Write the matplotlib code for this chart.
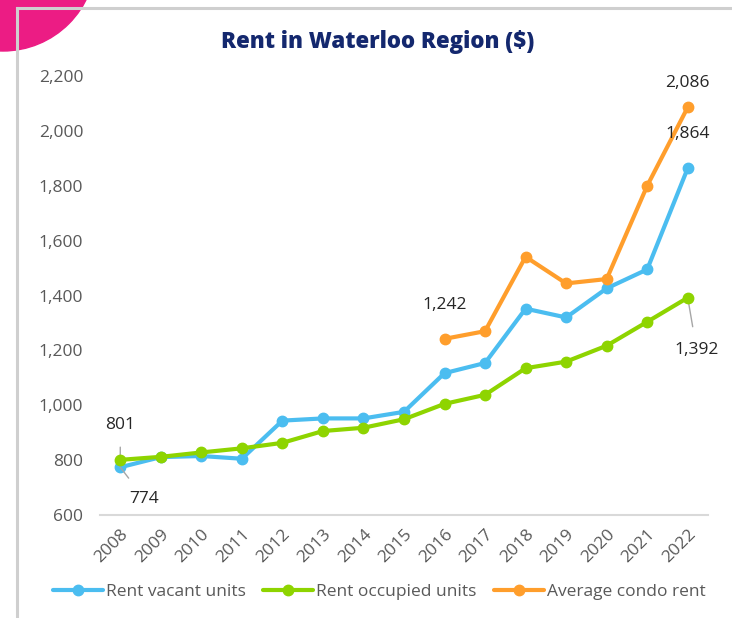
import matplotlib
matplotlib.use("Agg")
import matplotlib.pyplot as plt
from matplotlib.patches import Circle
from matplotlib.lines import Line2D

plt.rcParams['font.family'] = ['Open Sans', 'DejaVu Sans']

years = [str(y) for y in range(2008, 2023)]
vacant = [774, 811, 815, 805, 944, 952, 952, 976, 1117, 1154, 1352, 1320, 1426, 1495, 1864]
occupied = [801, 812, 828, 843, 863, 906, 918, 949, 1005, 1038, 1135, 1159, 1217, 1304, 1392]
condo_years = years[8:]
condo = [1242, 1270, 1541, 1444, 1460, 1800, 2086]

BLUE = '#4BBDF0'
GREEN = '#8ED400'
ORANGE = '#FF9E2C'
GRAY = '#595959'

W, H = 732, 618
fig = plt.figure(figsize=(W / 100, H / 100), dpi=100)

# decorative frame and pink circle
fig.add_artist(Line2D([17 / W, 17 / W], [0, 1 - 8 / H], transform=fig.transFigure, color='#cfcfcf', lw=2.2))
fig.add_artist(Line2D([17 / W, 1], [1 - 8 / H, 1 - 8 / H], transform=fig.transFigure, color='#cfcfcf', lw=2.2))
circ_ax = fig.add_axes([0, 0, 1, 1], zorder=-1)
circ_ax.set_xlim(0, W)
circ_ax.set_ylim(H, 0)
circ_ax.axis('off')
circ_ax.add_patch(Circle((3, -42), 93, color='#EC1C84', zorder=5))

ax = fig.add_axes([100 / W, 1 - 515 / H, 608 / W, (515 - 76) / H])
x = list(range(len(years)))
xc = list(range(8, 15))
lw = 3.0
ms = 7.5
ax.plot(x, vacant, color=BLUE, lw=lw, marker='o', ms=ms, label='Rent vacant units', solid_capstyle='round', zorder=3)
ax.plot(x, occupied, color=GREEN, lw=lw, marker='o', ms=ms, label='Rent occupied units', solid_capstyle='round', zorder=4)
ax.plot(xc, condo, color=ORANGE, lw=lw, marker='o', ms=ms, label='Average condo rent', solid_capstyle='round', zorder=3)

ax.set_xlim(-0.5, 14.5)
ax.set_ylim(600, 2200)
ax.set_yticks(range(600, 2201, 200))
ax.set_yticklabels([f'{v:,}' for v in range(600, 2201, 200)])
ax.set_xticks(x)
ax.set_xticklabels(years, rotation=45, ha='right', rotation_mode='anchor')
ax.tick_params(axis='both', length=0, labelsize=12.5, colors=GRAY)
ax.tick_params(axis='y', pad=12)
ax.tick_params(axis='x', pad=8)
for s in ['top', 'right', 'left']:
    ax.spines[s].set_visible(False)
ax.spines['bottom'].set_color('#d9d9d9')
ax.spines['bottom'].set_linewidth(1.5)

lab = dict(fontsize=12.5, color='#262626', ha='center', va='center')
# data labels
ax.annotate(f'{occupied[0]:,}', xy=(0, occupied[0]), xytext=(0, 801 + 126), textcoords='data', **lab,
            arrowprops=dict(arrowstyle='-', color='#a6a6a6', lw=1, shrinkA=8, shrinkB=0))
ax.annotate(f'{vacant[0]:,}', xy=(0, vacant[0]), xytext=(0.6, 774 - 115), textcoords='data', **lab,
            arrowprops=dict(arrowstyle='-', color='#a6a6a6', lw=1, shrinkA=9, shrinkB=0))
ax.text(8, condo[0] + 125, f'{condo[0]:,}', **lab)
ax.text(14, condo[-1] + 90, f'{condo[-1]:,}', **lab)
ax.text(14, vacant[-1] + 125, f'{vacant[-1]:,}', **lab)
ax.annotate(f'{occupied[-1]:,}', xy=(14, occupied[-1]), xytext=(14.22, 1392 - 190), textcoords='data', **lab,
            arrowprops=dict(arrowstyle='-', color='#a6a6a6', lw=1, shrinkA=9, shrinkB=0))

fig.text(378 / W, 1 - 42 / H, 'Rent in Waterloo Region ($)', fontsize=16, fontweight='heavy',
         color='#14286E', ha='center', va='center')

leg = fig.legend(handles=ax.get_lines(), loc='center', bbox_to_anchor=(379 / W, 1 - 592 / H), ncol=3,
                 frameon=False, fontsize=12.5, handlelength=2.9, handletextpad=0.15, columnspacing=1.0,
                 labelcolor=GRAY)

fig.savefig('out.png', dpi=100)
